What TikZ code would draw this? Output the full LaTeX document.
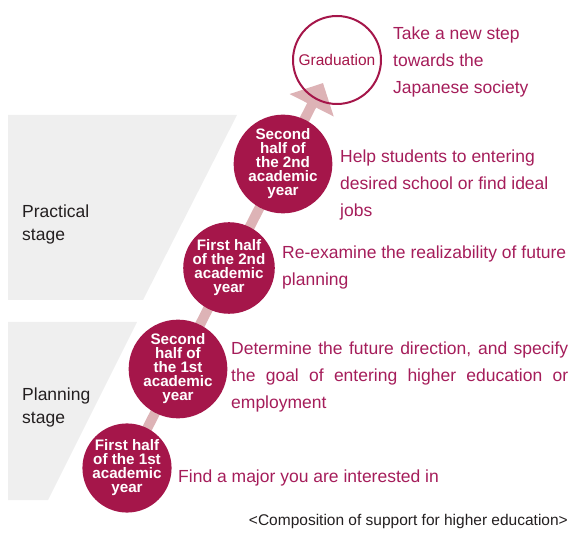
\documentclass[tikz,border=0pt]{standalone}
\usepackage{fontspec}
\setmainfont{Liberation Sans}
\usetikzlibrary{arrows.meta}
\definecolor{crim}{HTML}{A5164A}
\definecolor{pinkar}{HTML}{DDB3B6}
\definecolor{desc}{HTML}{A51D5A}
\definecolor{stagegray}{HTML}{EFEFEF}
\definecolor{darktext}{HTML}{231F20}
\begin{document}
\begin{tikzpicture}[x=1pt,y=-1pt,
  yearc/.style={circle, fill=crim, minimum size=88pt, inner sep=0pt, text=white, align=center,
    font=\fontsize{15.2}{14}\selectfont\bfseries},
  gradc/.style={circle, minimum size=88pt, inner sep=0pt, text=crim,
    font=\fontsize{15.5}{16}\selectfont},
  desctext/.style={anchor=base west, text=desc, align=left, inner sep=0pt,
    font=\fontsize{17.5}{27}\selectfont},
  stagetext/.style={anchor=base west, text=darktext, align=left, inner sep=0pt,
    font=\fontsize{17.5}{23.5}\selectfont},
  stagebg/.style={fill=stagegray},
  progress/.style={pinkar, line width=10pt, -{Triangle[length=25pt,width=48pt]}}
]
\useasboundingbox (0,0) rectangle (573,534);
% stage backgrounds
\fill[stagebg] (8,115) -- (237,115) -- (143,300) -- (8,300) -- cycle;
\fill[stagebg] (8,322) -- (137,322) -- (48,500) -- (8,500) -- cycle;
% (anchor base = baseline of last line)
\node[stagetext] (practical) at (22,241) {Practical\\stage};
\node[stagetext] (planning) at (22,424) {Planning\\stage};
% circle positions
\coordinate (p1) at (127,468);
\coordinate (p5) at (337,60);
\coordinate (tip) at (323,83);
\node[gradc] (grad) at (p5) {};
\draw[progress] (p1) -- (tip);
\node[gradc, draw=crim, line width=2pt] (gradtxt) at (p5) {Graduation};
\node[yearc] (y1) at (p1) {First half\\of the 1st\\academic\\year};
\node[yearc] (y2) at (178,369) {Second\\half of\\the 1st\\academic\\year};
\node[yearc] (y3) at (229,268) {First half\\of the 2nd\\academic\\year};
\node[yearc] (y4) at (283,164) {Second\\half of\\the 2nd\\academic\\year};
% descriptions (anchor base = baseline of last line)
\node[desctext] (d5) at (393,94) {Take a new step\\towards the\\Japanese society};
\node[desctext] (d4) at (340,217) {Help students to entering\\desired school or find ideal\\jobs};
\node[desctext] (d3) at (282,286) {Re-examine the realizability of future\\planning};
% justified node: anchor base = baseline of first line
\node[desctext, text width=337pt, align=justify] (d2) at (231,355) {Determine the future direction, and specify\linebreak the goal of entering higher education or\linebreak employment};
\node[desctext] (d1) at (178,482) {Find a major you are interested in};
\node[anchor=base east, inner sep=0pt, text=darktext, font=\fontsize{15.5}{18}\selectfont] (caption) at (568,525) {<Composition of support for higher education>};
\end{tikzpicture}
\end{document}
